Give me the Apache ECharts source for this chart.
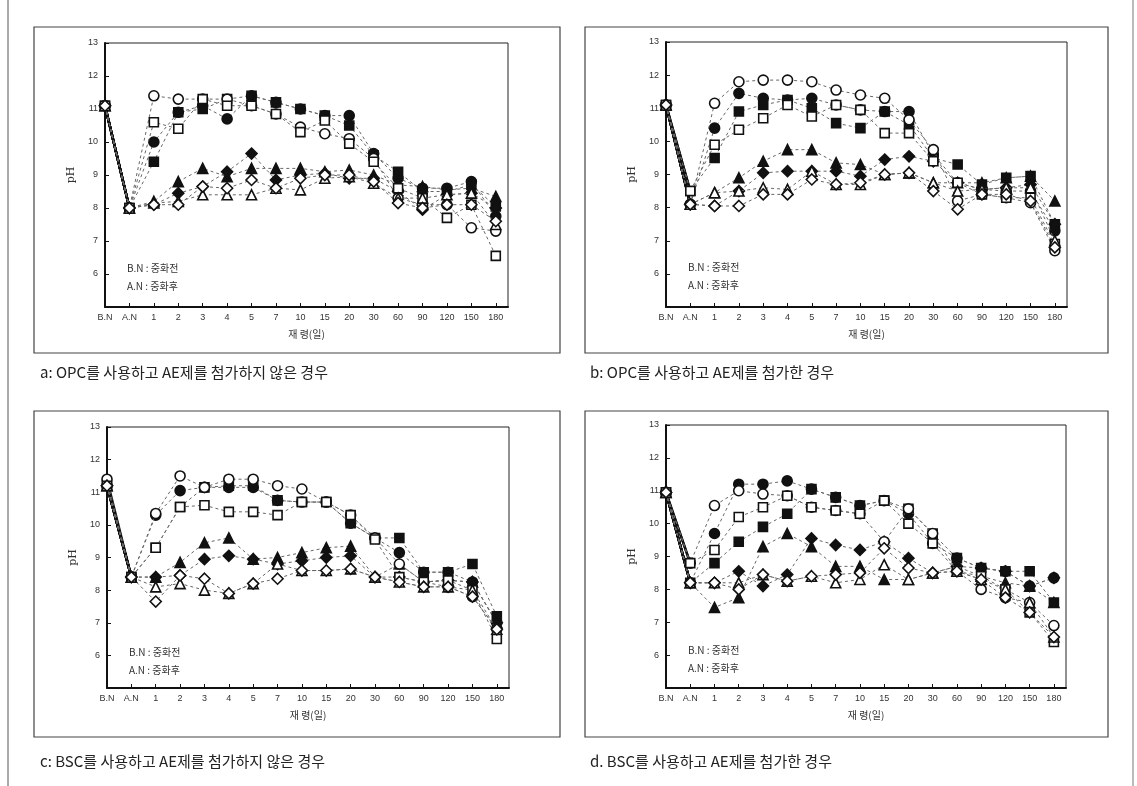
<!DOCTYPE html>
<html><head><meta charset="utf-8">
<script src="https://cdn.jsdelivr.net/npm/echarts@6/dist/echarts.min.js"></script>
<style>html,body{margin:0;padding:0;background:#fff}#c{width:1137px;height:786px}</style>
</head><body><div id="c"></div>
<script>
// x categories (days of age) shared by all panels
const categories = ['B.N','A.N','1','2','3','4','5','7','10','15','20','30','60','90','120','150','180'];
const yTicks = [5,6,7,8,9,10,11,12,13];

// Panel a: OPC, no AE
const a_openCircle   = [11.1,8.0,11.4,11.3,11.3,11.3,11.1,10.85,10.45,10.25,10.1,9.5,8.3,8.1,8.1,7.4,7.3];
const a_fillCircle   = [11.1,8.0,10.0,10.9,11.1,10.7,11.4,11.2,11.0,10.8,10.8,9.65,8.9,8.6,8.6,8.8,7.75];
const a_openSquare   = [11.1,8.0,10.6,10.4,11.3,11.1,11.1,10.85,10.3,10.65,9.95,9.4,8.6,8.3,7.7,8.1,6.55];
const a_fillSquare   = [11.1,8.0,9.4,10.9,11.0,11.3,11.4,11.2,11.0,10.8,10.5,9.6,9.1,8.5,8.5,8.7,8.05];
const a_openTriangle = [11.1,8.0,8.15,8.2,8.4,8.4,8.4,8.6,8.55,8.9,8.95,8.75,8.3,8.3,8.4,8.45,7.5];
const a_fillTriangle = [11.1,8.0,8.2,8.8,9.2,8.95,9.2,9.2,9.2,9.1,9.15,9.0,8.7,8.65,8.55,8.6,8.35];
const a_openDiamond  = [11.1,8.0,8.1,8.1,8.65,8.6,8.85,8.6,8.9,9.0,9.0,8.8,8.15,8.0,8.1,8.1,7.6];
const a_fillDiamond  = [11.1,8.0,8.1,8.45,8.65,9.1,9.65,8.85,9.0,9.05,8.9,8.9,8.5,7.95,8.4,8.45,8.0];

// Panel b: OPC, with AE
const b_openCircle   = [11.1,8.1,11.15,11.8,11.85,11.85,11.8,11.55,11.4,11.3,10.65,9.75,8.2,8.4,8.3,8.15,6.7];
const b_fillCircle   = [11.1,8.1,10.4,11.45,11.3,11.25,11.3,11.1,10.95,10.9,10.9,9.6,8.75,8.55,8.5,8.5,7.3];
const b_openSquare   = [11.1,8.5,9.9,10.35,10.7,11.1,10.75,11.1,10.95,10.25,10.25,9.4,8.75,8.4,8.3,8.3,6.9];
const b_fillSquare   = [11.1,8.5,9.5,10.9,11.1,11.25,11.0,10.55,10.4,10.9,10.5,9.5,9.3,8.7,8.9,8.95,7.5];
const b_openTriangle = [11.1,8.1,8.45,8.5,8.6,8.55,9.1,8.7,8.7,9.0,9.05,8.75,8.5,8.55,8.6,8.6,7.0];
const b_fillTriangle = [11.1,8.1,8.45,8.9,9.4,9.75,9.75,9.35,9.3,9.0,9.05,8.75,8.75,8.75,8.9,8.95,8.2];
const b_openDiamond  = [11.1,8.1,8.05,8.05,8.4,8.4,8.85,8.7,8.75,9.0,9.05,8.5,7.95,8.4,8.4,8.2,6.8];
const b_fillDiamond  = [11.1,8.1,8.05,8.5,9.05,9.1,9.1,9.1,8.95,9.45,9.55,9.4,8.75,8.55,8.6,8.7,7.5];

// Panel c: BSC, no AE
const c_openCircle   = [11.4,8.4,10.35,11.5,11.15,11.4,11.4,11.2,11.1,10.7,10.3,9.6,8.8,8.25,8.1,7.8,6.8];
const c_fillCircle   = [11.2,8.4,10.3,11.05,11.15,11.15,11.15,10.75,10.7,10.7,10.05,9.6,9.15,8.55,8.55,8.25,7.0];
const c_openSquare   = [11.2,8.4,9.3,10.55,10.6,10.4,10.4,10.3,10.7,10.7,10.3,9.55,8.4,8.25,8.3,8.0,6.5];
const c_fillSquare   = [11.2,8.4,9.3,10.55,11.15,11.2,11.2,10.75,10.7,10.7,10.05,9.6,9.6,8.55,8.55,8.8,7.2];
const c_openTriangle = [11.2,8.4,8.1,8.2,8.0,7.9,8.2,8.8,8.6,8.6,8.65,8.4,8.25,8.1,8.1,8.0,6.8];
const c_fillTriangle = [11.2,8.4,8.4,8.85,9.45,9.6,8.95,9.0,9.15,9.3,9.35,8.4,8.8,8.25,8.3,8.25,7.0];
const c_openDiamond  = [11.2,8.4,7.65,8.45,8.35,7.9,8.2,8.35,8.6,8.6,8.65,8.4,8.25,8.1,8.1,7.8,6.8];
const c_fillDiamond  = [11.2,8.4,8.4,8.45,8.95,9.05,8.95,8.8,8.9,9.0,9.05,8.4,8.4,8.25,8.3,8.25,7.0];

// Panel d: BSC, with AE
const d_openCircle   = [10.95,8.8,10.55,11.0,10.9,10.85,10.5,10.4,10.3,9.45,10.45,9.7,8.55,8.0,7.75,7.6,6.9];
const d_fillCircle   = [10.95,8.2,9.7,11.2,11.2,11.3,11.05,10.8,10.55,10.7,10.3,9.4,8.95,8.65,8.55,8.1,8.35];
const d_openSquare   = [10.95,8.8,9.2,10.2,10.5,10.85,10.5,10.4,10.3,10.7,10.0,9.4,8.55,8.4,8.0,7.3,6.4];
const d_fillSquare   = [10.95,8.2,8.8,9.45,9.9,10.3,11.05,10.8,10.55,10.7,10.45,9.7,8.95,8.65,8.55,8.55,7.6];
const d_openTriangle = [10.95,8.2,8.2,8.2,8.45,8.25,8.4,8.2,8.3,8.75,8.3,8.5,8.55,8.3,8.0,7.6,6.55];
const d_fillTriangle = [10.95,8.2,7.45,7.75,9.3,9.7,9.3,8.7,8.7,8.3,8.3,8.5,8.7,8.4,8.2,8.1,7.6];
const d_openDiamond  = [10.95,8.2,8.2,8.0,8.45,8.25,8.4,8.45,8.5,9.25,8.65,8.5,8.55,8.3,7.75,7.3,6.55];
const d_fillDiamond  = [10.95,8.2,8.2,8.55,8.1,8.45,9.55,9.35,9.2,9.45,8.95,8.5,8.7,8.65,8.55,8.1,8.35];

const captions = ['a: OPC를 사용하고 AE제를 첨가하지 않은 경우','b: OPC를 사용하고 AE제를 첨가한 경우',
                  'c: BSC를 사용하고 AE제를 첨가하지 않은 경우','d. BSC를 사용하고 AE제를 첨가한 경우'];
const noteLines = ['B.N : 중화전','A.N : 중화후'];
const xTitle = '재 령(일)';
const yTitle = 'pH';

const panels = [
  [a_openCircle,a_fillCircle,a_openSquare,a_fillSquare,a_openTriangle,a_fillTriangle,a_openDiamond,a_fillDiamond],
  [b_openCircle,b_fillCircle,b_openSquare,b_fillSquare,b_openTriangle,b_fillTriangle,b_openDiamond,b_fillDiamond],
  [c_openCircle,c_fillCircle,c_openSquare,c_fillSquare,c_openTriangle,c_fillTriangle,c_openDiamond,c_fillDiamond],
  [d_openCircle,d_fillCircle,d_openSquare,d_fillSquare,d_openTriangle,d_fillTriangle,d_openDiamond,d_fillDiamond]
];
const markers = [['circle',false],['circle',true],['rect',false],['rect',true],
                 ['triangle',false],['triangle',true],['diamond',false],['diamond',true]];

// layout
const grids = [
  {left:105, top:43, width:403, height:264},
  {left:666, top:42, width:401, height:265},
  {left:107, top:427, width:402, height:261},
  {left:666, top:425, width:400, height:263}
];
const boxes = [[34,27,526,326],[585,27,523,326],[34,411,526,326],[585,411,523,326]];
const capPos = [[40,374],[590,374],[40,763],[590,763]];

const font = '"Noto Sans CJK KR", "DejaVu Sans", sans-serif';
const chart = echarts.init(document.getElementById('c'), null, {renderer:'canvas'});
const xAxis = [], yAxis = [], series = [], graphic = [];
grids.forEach((g,p)=>{
  xAxis.push({type:'value', gridIndex:p, min:0, max:16.5, interval:1,
    name:xTitle, nameLocation:'middle', nameGap:22, nameTextStyle:{fontSize:10, color:'#333', fontFamily:font},
    axisLine:{lineStyle:{color:'#111', width:2}},
    axisTick:{inside:true, length:4, lineStyle:{color:'#111'}},
    axisLabel:{fontSize:9, color:'#333', margin:6, showMaxLabel:false,
      formatter:v=>Number.isInteger(v)&&categories[v]!==undefined?categories[v]:''},
    splitLine:{show:false}});
  yAxis.push({type:'value', gridIndex:p, min:5, max:13, interval:1,
    name:yTitle, nameLocation:'middle', nameGap:28, nameTextStyle:{fontSize:11, color:'#333', fontFamily:'DejaVu Serif'},
    axisLine:{lineStyle:{color:'#111', width:2}},
    axisTick:{inside:true, length:4, lineStyle:{color:'#111'}},
    axisLabel:{fontSize:9, color:'#333', margin:7, formatter:v=>v===5?'':String(v)},
    splitLine:{show:false}});
  panels[p].forEach((vals,k)=>{
    const [sym, filled] = markers[k];
    const pts = vals.map((v,i)=>[i,v]);
    series.push({type:'line', xAxisIndex:p, yAxisIndex:p, data:pts, symbol:sym,
      symbolSize: sym==='rect'?9:(sym==='diamond'?11:10),
      lineStyle:{color:'#666', width:1, type:[3,3]},
      itemStyle:{color: filled?'#111':'#fff', borderColor:'#111', borderWidth:1.6},
      z: filled?3:4, animation:false, silent:true});
    series.push({type:'line', xAxisIndex:p, yAxisIndex:p, data:pts.slice(0,2), symbol:'none',
      lineStyle:{color:'#111', width:2.4}, z:2, animation:false, silent:true});
  });
  const b = boxes[p];
  graphic.push({type:'rect', shape:{x:b[0], y:b[1], width:b[2], height:b[3]},
    style:{fill:'none', stroke:'#444', lineWidth:1.2}, silent:true});
  graphic.push({type:'text', left:capPos[p][0], top:capPos[p][1]-9,
    style:{text:captions[p], fontSize:15, fill:'#222', fontFamily:font}});
  noteLines.forEach((t,j)=>{
    graphic.push({type:'text', left:g.left+22, top:g.top+220+j*18,
      style:{text:t, fontSize:10, fill:'#333', fontFamily:font}});
  });
});
// outer frame lines
graphic.push({type:'line', shape:{x1:8, y1:0, x2:8, y2:786}, style:{stroke:'#555', lineWidth:1}});
graphic.push({type:'line', shape:{x1:1133, y1:0, x2:1133, y2:786}, style:{stroke:'#777', lineWidth:1}});

chart.setOption({
  animation:false,
  grid: grids.map(g=>Object.assign({show:true, borderColor:'#222', borderWidth:1, backgroundColor:'transparent', containLabel:false}, g)),
  xAxis, yAxis, series, graphic
});
</script></body></html>
